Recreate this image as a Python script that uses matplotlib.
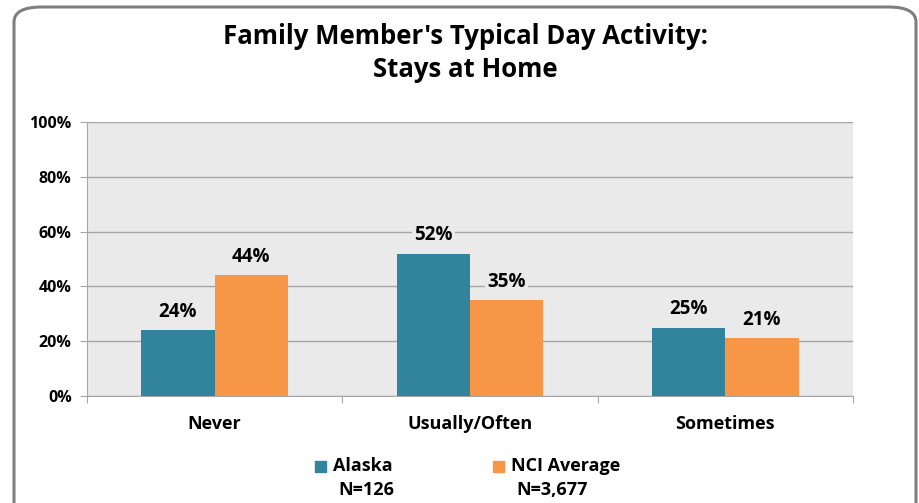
import numpy as np
import matplotlib.pyplot as plt
from matplotlib.patches import FancyBboxPatch, Rectangle

plt.rcParams['font.family'] = ['Open Sans', 'DejaVu Sans']
plt.rcParams['font.weight'] = 'bold'

# data
categories = ['Never', 'Usually/Often', 'Sometimes']
alaska = [24, 52, 25]
nci = [44, 35, 21]
series_names = ['Alaska', 'NCI Average']
series_n = ['N=126', 'N=3,677']
title = "Family Member's Typical Day Activity:\nStays at Home"

teal = '#31849B'
orange = '#F79646'
plot_bg = '#EAEAEA'

W, H = 919, 503
fig = plt.figure(figsize=(W / 100, H / 100), dpi=100)

# rounded outer frame
frame = FancyBboxPatch((14 / W, -20 / H), 902 / W, (H - 7 + 20) / H,
                       boxstyle='round,pad=0,rounding_size=0.03',
                       transform=fig.transFigure, fill=False,
                       edgecolor='#7f7f7f', linewidth=2.2, zorder=0)
fig.patches.append(frame)

ax = fig.add_axes([87 / W, (H - 396) / H, (853 - 87) / W, (396 - 122) / H])
ax.set_facecolor(plot_bg)

x = np.arange(len(categories))
bw = 0.287
ax.bar(x - bw / 2, alaska, bw, color=teal, zorder=3)
ax.bar(x + bw / 2, nci, bw, color=orange, zorder=3)

lab_box = dict(facecolor=plot_bg, edgecolor='none', pad=1.5)
for xs, vals in [(x - bw / 2, alaska), (x + bw / 2, nci)]:
    for xi, v in zip(xs, vals):
        ax.text(xi, v + 3, f'{v}%', ha='center', va='bottom', fontsize=13.5,
                fontweight='bold', bbox=lab_box, zorder=4)

ax.set_xlim(-0.5, len(categories) - 0.5)
ax.set_ylim(0, 100)
ax.set_yticks(np.arange(0, 101, 20))
ax.set_yticklabels([f'{t}%' for t in range(0, 101, 20)], fontsize=11.5, fontweight='bold')
ax.yaxis.grid(True, color='#A6A6A6', linewidth=1, zorder=0)
ax.set_axisbelow(True)

ax.set_xticks(np.arange(-0.5, len(categories), 1.0))
ax.set_xticklabels([])
ax.set_xticks(x, minor=True)
ax.set_xticklabels(categories, minor=True, fontsize=13, fontweight='bold')
ax.tick_params(axis='x', which='major', length=5, color='#A6A6A6')
ax.tick_params(axis='x', which='minor', length=0, pad=14)
ax.tick_params(axis='y', length=5, color='#A6A6A6', pad=6)

for s in ['top', 'right']:
    ax.spines[s].set_visible(False)
for s in ['left', 'bottom']:
    ax.spines[s].set_color('#A6A6A6')

fig.text(0.506, (H - 53) / H, title, ha='center', va='center', fontsize=18.5,
         fontweight='bold', linespacing=1.25)

# legend
legend_x = [315, 493]
for lx, name, n, c in zip(legend_x, series_names, series_n, [teal, orange]):
    fig.patches.append(Rectangle((lx / W, (H - 472) / H), 11 / W, 11 / H,
                                 transform=fig.transFigure, color=c))
    fig.text((lx + 18) / W, (H - 466) / H, name, ha='left', va='center',
             fontsize=13, fontweight='bold')
    fig.text((lx + 23) / W, (H - 490) / H, n, ha='left', va='center',
             fontsize=13, fontweight='bold')

fig.savefig('out.png', dpi=100)
